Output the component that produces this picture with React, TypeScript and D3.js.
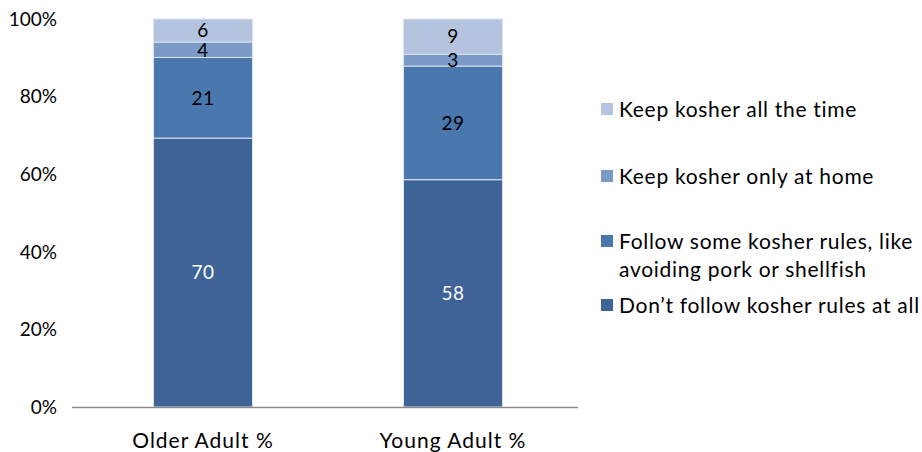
import React from "react";
import * as d3 from "d3";

const categories = ["Older Adult %", "Young Adult %"];
const seriesNames = [
  "Don\u2019t follow kosher rules at all",
  "Follow some kosher rules, like avoiding pork or shellfish",
  "Keep kosher only at home",
  "Keep kosher all the time",
];
const dontFollow = [70, 58];
const followSome = [21, 29];
const onlyHome = [4, 3];
const allTime = [6, 9];
const yTicks = [0, 0.2, 0.4, 0.6, 0.8, 1];
const colors = ["#3E6497", "#4977AE", "#7B9AC7", "#B4C3DE"];
const labelColors = ["#ffffff", "#000000", "#000000", "#000000"];

const legendItems = [
  { idx: 3, lines: ["Keep kosher all the time"], y: 109 },
  { idx: 2, lines: ["Keep kosher only at home"], y: 176 },
  { idx: 1, lines: ["Follow some kosher rules, like", "avoiding pork or shellfish"], y: 241 },
  { idx: 0, lines: ["Don\u2019t follow kosher rules at all"], y: 305 },
];

export default function App() {
  const W = 922, H = 452;
  const font = "Lato, 'Open Sans', sans-serif";
  const rows = categories.map((c, i) => ({
    cat: c,
    s0: dontFollow[i],
    s1: followSome[i],
    s2: onlyHome[i],
    s3: allTime[i],
  }));
  const stack = d3.stack<any>().keys(["s0", "s1", "s2", "s3"]).offset(d3.stackOffsetExpand);
  const series = stack(rows);
  const y = d3.scaleLinear().domain([0, 1]).range([407, 19]);
  const x = d3.scaleBand().domain(categories).range([78, 578]).padding(0);
  const bw = 99;
  const cx = (c: string) => (x(c) as number) + x.bandwidth() / 2;
  const raw = [dontFollow, followSome, onlyHome, allTime];

  return (
    <svg width={W} height={H} style={{ position: "absolute", left: 0, top: 0, background: "#fff" }}>
      {series.map((s, si) =>
        s.map((d, i) => (
          <rect
            key={`${si}-${i}`}
            x={cx(categories[i]) - bw / 2}
            y={y(d[1])}
            width={bw}
            height={y(d[0]) - y(d[1])}
            fill={colors[si]}
            stroke="#dbe3ef"
            strokeWidth={1}
          />
        ))
      )}
      {series.map((s, si) =>
        s.map((d, i) => (
          <text
            key={`l-${si}-${i}`}
            x={cx(categories[i])}
            y={(y(d[0]) + y(d[1])) / 2}
            dy="0.36em"
            textAnchor="middle"
            fontFamily={font}
            fontSize={19}
            letterSpacing={0.5}
            fill={labelColors[si]}
          >
            {raw[si][i]}
          </text>
        ))
      )}
      <line x1={72} x2={578} y1={407.5} y2={407.5} stroke="#8c8c8c" strokeWidth={1.5} />
      {yTicks.map((t) => (
        <text key={t} x={57} y={y(t)} dy="0.36em" textAnchor="end" fontFamily={font} fontSize={19} fill="#000">
          {d3.format(".0%")(t)}
        </text>
      ))}
      {categories.map((c) => (
        <text key={c} x={cx(c)} y={440} dy="0.36em" textAnchor="middle" fontFamily={font} fontSize={21} letterSpacing={1} fill="#000">
          {c}
        </text>
      ))}
      {legendItems.map((it) => (
        <g key={it.idx}>
          <rect x={601} y={it.y - 6} width={12} height={12} fill={colors[it.idx]} />
          {it.lines.map((ln, li) => (
            <text key={li} x={619} y={it.y + li * 28} dy="0.36em" fontFamily={font} fontSize={21} letterSpacing={0.7} fill="#000">
              {ln}
            </text>
          ))}
        </g>
      ))}
    </svg>
  );
}
